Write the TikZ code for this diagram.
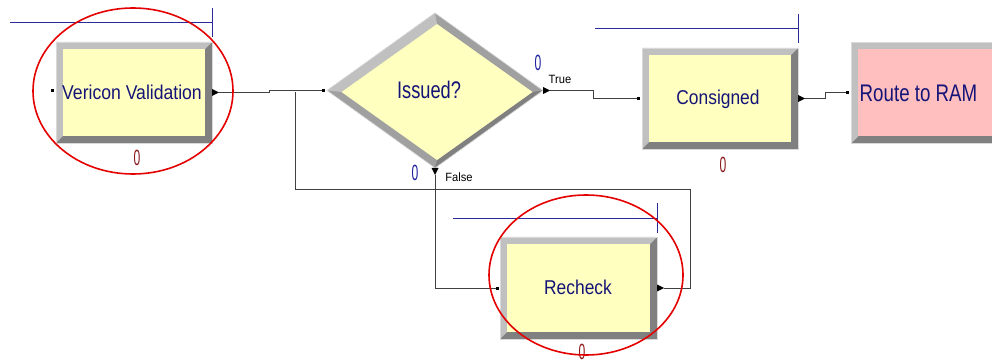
\documentclass[tikz,border=0pt]{standalone}
\usepackage{fontspec}
\setmainfont{Liberation Sans}
\usetikzlibrary{arrows.meta,shapes.geometric,calc,backgrounds}
\definecolor{boxyellow}{HTML}{FFFFC0}
\definecolor{bevlight}{HTML}{C0C0C0}
\definecolor{bevmid}{HTML}{A0A0A0}
\definecolor{bevdark}{HTML}{808080}
\definecolor{labelblue}{HTML}{141478}
\definecolor{queueblue}{HTML}{2A2A9A}
\definecolor{countred}{HTML}{8B1A1A}
\definecolor{countblue}{HTML}{2020A0}
\definecolor{routepink}{HTML}{FFBFBF}
\definecolor{wire}{HTML}{404040}
\newcommand{\narrowtxt}[2]{\scalebox{#1}[1]{#2}}
\newcommand{\bevelbox}[2]{%
  \fill[bevdark] (#1.north west) rectangle (#1.south east);
  \fill[bevlight] (#1.north west) -- (#1.north east) -- ($(#1.north east)+(-7,7)$) -- ($(#1.north west)+(7,7)$) -- ($(#1.south west)+(7,-7)$) -- (#1.south west) -- cycle;
  \fill[#2] ($(#1.north west)+(7,7)$) rectangle ($(#1.south east)+(-7,-7)$);
  \draw[bevlight!60!white, line width=0.6pt] (#1.north west) rectangle (#1.south east);
}
\newcommand{\outportright}[1]{\fill[black] ($(#1)+(-7,-3.5)$) -- (#1) -- ($(#1)+(-7,3.5)$) -- cycle;}
\newcommand{\outportdown}[1]{\fill[black] ($(#1)+(-3.5,-7)$) -- (#1) -- ($(#1)+(3.5,-7)$) -- cycle;}
\newcommand{\inport}[1]{\fill[black] ($(#1)+(-1.5,-1.5)$) rectangle ($(#1)+(1.5,1.5)$);}
\tikzset{
  module/.style={rectangle, minimum width=156pt, minimum height=101pt, inner sep=0pt, outer sep=0pt},
  modtext/.style={text=labelblue, font=\fontsize{20}{20}\selectfont, inner sep=0pt},
  bigtext/.style={text=labelblue, font=\fontsize{24}{24}\selectfont, inner sep=0pt},
  counter/.style={font=\fontsize{22}{22}\selectfont, inner sep=0pt},
  branch/.style={font=\fontsize{12}{12}\selectfont, text=black, inner sep=0pt},
  wireline/.style={draw=wire, line width=1pt},
  queue/.style={draw=queueblue, line width=1pt},
  ring/.style={draw=red!90!black, line width=1.6pt},
}
\begin{document}
\begin{tikzpicture}[x=1pt,y=-1pt]
\useasboundingbox (0,0) rectangle (992,363);
% modules
\node[module] (vv) at (134,92.5) {};
\node[diamond, minimum width=216pt, minimum height=155pt, inner sep=0pt, outer sep=0pt] (dec) at (435,90.5) {};
\node[diamond, minimum width=191pt, minimum height=136pt, inner sep=0pt, outer sep=0pt] (deci) at (437,92) {};
\node[module] (con) at (720,98.5) {};
\node[module] (route) at (929,93) {};
\node[module, minimum width=157pt, minimum height=102pt] (rec) at (578.5,288) {};
\begin{pgfonlayer}{background}
  \fill[white] (0,0) rectangle (992,363);
  \bevelbox{vv}{boxyellow}
  \bevelbox{con}{boxyellow}
  \bevelbox{route}{routepink}
  \bevelbox{rec}{boxyellow}
  \fill[bevmid] (dec.west) -- (dec.north) -- (dec.east) -- (dec.south) -- cycle;
  \fill[bevlight] (dec.west) -- (dec.north) -- (deci.north) -- (deci.west) -- cycle;
  \fill[bevdark] (dec.east) -- (dec.south) -- (deci.south) -- (deci.east) -- cycle;
  \fill[boxyellow] (deci.west) -- (deci.north) -- (deci.east) -- (deci.south) -- cycle;
  \draw[bevlight!60!white, line width=0.6pt] (dec.west) -- (dec.north) -- (dec.east) -- (dec.south) -- cycle;
\end{pgfonlayer}
% labels
\node[modtext] (vvlabel) at (132,92) {\narrowtxt{0.88}{Vericon Validation}};
\node[bigtext] (declabel) at (429,90) {\narrowtxt{0.76}{Issued?}};
\node[modtext] (conlabel) at (718,99) {\narrowtxt{0.87}{Consigned}};
\node[bigtext] (routelabel) at (918.5,93) {\narrowtxt{0.78}{Route to RAM}};
\node[modtext] (reclabel) at (578,287) {\narrowtxt{0.87}{Recheck}};
% counters
\node[counter, text=countred] (vvcount) at (137,158) {\narrowtxt{0.55}{0}};
\node[counter, text=countred] (concount) at (723,165) {\narrowtxt{0.55}{0}};
\node[counter, text=countred] (reccount) at (582,352) {\narrowtxt{0.55}{0}};
\node[counter, text=countblue] (truecount) at (538,63) {\narrowtxt{0.55}{0}};
\node[counter, text=countblue] (falsecount) at (415,173) {\narrowtxt{0.55}{0}};
\node[branch] (truelabel) at (560,79) {\narrowtxt{0.93}{True}};
\node[branch] (falselabel) at (459,177) {\narrowtxt{0.93}{False}};
% queue markers
\draw[queue] (10,23) -- (212,23);
\draw[queue] (212,8) -- (212,37);
\draw[queue] (595,29) -- (798,29);
\draw[queue] (798,14) -- (798,43);
\draw[queue] (453,219) -- (657,219);
\draw[queue] (657,203) -- (657,233);
% ports
\coordinate (vvin) at ($(vv.west)+(-4,-1.5)$);
\coordinate (vvout) at ($(vv.east)+(7,0)$);
\coordinate (decin) at ($(dec.west)+(-4,0)$);
\coordinate (trueout) at ($(dec.east)+(7,0)$);
\coordinate (falseout) at ($(dec.south)+(0,7)$);
\coordinate (conin) at ($(con.west)+(-4,0)$);
\coordinate (conout) at ($(con.east)+(7,0)$);
\coordinate (routein) at ($(route.west)+(-4,0)$);
\coordinate (recin) at ($(rec.west)+(-3,0)$);
\coordinate (recout) at ($(rec.east)+(7,0)$);
\coordinate (loopjoin) at ($(vvout)+(76,0)$);
% connectors
\draw[wireline] (vvout) -- ++(50,0) |- (decin);
\draw[wireline] (trueout) -- ++(43,0) |- (conin);
\draw[wireline] (conout) -- ++(20,0) |- (routein);
\draw[wireline] (falseout) |- (recin);
\draw[wireline] (recout) -- ++(26,0) -- ++(0,-98) -| (loopjoin);
\outportright{vvout}
\outportright{trueout}
\outportright{conout}
\outportright{recout}
\outportdown{falseout}
\inport{vvin}
\inport{decin}
\inport{conin}
\inport{routein}
\inport{recin}
% highlight rings
\draw[ring] (133,91) ellipse [x radius=100, y radius=83];
\draw[ring] (586,275) ellipse [x radius=97, y radius=80];
\end{tikzpicture}
\end{document}
